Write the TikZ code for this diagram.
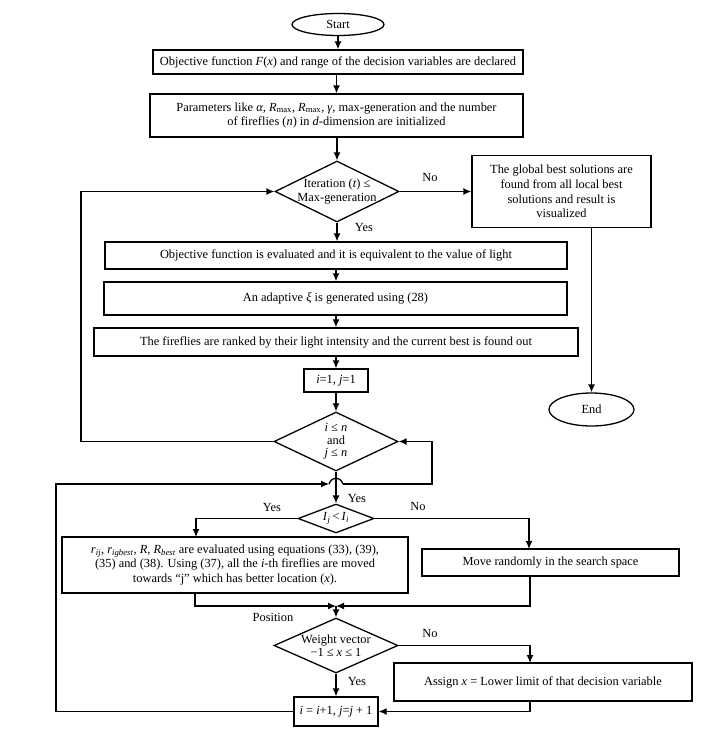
\documentclass[tikz,border=0pt]{standalone}
\usepackage{fontspec}
\setmainfont{Liberation Serif}
\usetikzlibrary{shapes.geometric,arrows.meta}
\begin{document}
\begin{tikzpicture}[x=1pt,y=-1pt,line width=1.3pt,
  font=\fontsize{12.4}{14.7}\selectfont,
  box/.style={draw, rectangle, inner sep=0pt, align=center},
  dia/.style={draw, diamond, inner sep=0pt},
  term/.style={draw, ellipse, inner sep=0pt},
  dtext/.style={inner sep=0pt, align=center},
  tight/.style={font=\fontsize{12.4}{12.5}\selectfont},
  arr/.style={-{Latex[length=8pt,width=7pt]}},
  lbl/.style={inner sep=0pt}
]
\useasboundingbox[fill=white] (0,0) rectangle (718,734);

% nodes
\node[term, minimum width=92pt, minimum height=22pt] (start) at (338,24.5) {Start};
\node[box, minimum width=370pt, minimum height=24pt] (b1) at (338,62)
  {Objective function \textit{F}(\textit{x}) and range of the decision variables are declared};
\node[box, minimum width=373pt, minimum height=43pt] (b2) at (336.5,115.5)
  {Parameters like \textit{α}, \textit{R}\textsubscript{max}, \textit{R}\textsubscript{max}, \textit{γ}, max-generation and the number\\of fireflies (\textit{n}) in \textit{d}-dimension are initialized};
\node[dia, minimum width=124pt, minimum height=61pt] (d1) at (337,191.5) {};
\node[dtext, font=\fontsize{12.4}{14}\selectfont] at (d1) {Iteration (\textit{t}) ≤\\Max-generation};
\node[box, minimum width=179pt, minimum height=72pt] (glob) at (561.5,191.5)
  {The global best solutions are\\found from all local best\\solutions and result is\\visualized};
\node[term, minimum width=85pt, minimum height=33pt] (end) at (591.5,409.5) {End};
\node[box, minimum width=462pt, minimum height=27pt] (b3) at (336,255.5)
  {Objective function is evaluated and it is equivalent to the value of light};
\node[box, minimum width=463pt, minimum height=33pt] (b4) at (335.5,298.5)
  {An adaptive \textit{ξ} is generated using (28)};
\node[box, minimum width=484pt, minimum height=28pt] (b5) at (336,342)
  {The fireflies are ranked by their light intensity and the current best is found out};
\node[box, minimum width=64pt, minimum height=23pt] (init) at (336,380.5)
  {\textit{i}=1, \textit{j}=1};
\node[dia, minimum width=124pt, minimum height=59pt] (d2) at (336,441.5) {};
\node[dtext, tight] at (d2) {\textit{i} ≤ \textit{n}\\and\\\textit{j} ≤ \textit{n}};
\node[dia, minimum width=76pt, minimum height=29pt] (d3) at (336,518.5) {};
\node[dtext] at (d3) {\textit{I}\textsubscript{\textit{j}}\,<\,\textit{I}\textsubscript{\textit{i}}};
\node[box, minimum width=346pt, minimum height=56pt] (big) at (235,565)
  {\textit{r}\textsubscript{\textit{ij}}, \textit{r}\textsubscript{\textit{igbest}}, \textit{R}, \textit{R}\textsubscript{\textit{best}} are evaluated using equations (33), (39),\\(35) and (38). Using (37), all the \textit{i}-th fireflies are moved\\towards “j” which has better location (\textit{x}).};
\node[box, minimum width=257pt, minimum height=27pt] (move) at (550.5,562.5)
  {Move randomly in the search space};
\node[dia, minimum width=124pt, minimum height=55pt] (d4) at (336,645.5) {};
\node[dtext, tight] at (d4) {Weight vector\\−1 ≤ \textit{x} ≤ 1};
\node[box, minimum width=298pt, minimum height=38pt] (assign) at (543,682)
  {Assign \textit{x} = Lower limit of that decision variable};
\node[box, minimum width=84pt, minimum height=29pt] (incr) at (336,711.5)
  {\textit{i} = \textit{i}+1, \textit{j}=\textit{j} + 1};

% labels
\node[lbl] at (430,177) {No};
\node[lbl] at (364,227) {Yes};
\node[lbl] at (357,498) {Yes};
\node[lbl] at (272,507) {Yes};
\node[lbl] at (418,506) {No};
\node[lbl] at (273,617) {Position};
\node[lbl] at (430,633) {No};
\node[lbl] at (357,681) {Yes};

% coordinates
\coordinate (ll) at (81,441.5);
\coordinate (lc) at (56,484);
\coordinate (hopA) at (329,484);
\coordinate (hopB) at (343,484);
\coordinate (rc) at (432,484);
\coordinate (bigin) at (196,537);
\coordinate (movein) at (529,549);
\coordinate (bigout) at (195,593);
\coordinate (moveout) at (530,576);
\coordinate (merge) at (336,606);
\coordinate (asgin) at (530,663);
\coordinate (asgout) at (530,701);

% connectors
\draw[arr] (start.south) -- (start.south |- b1.north);
\draw[arr] (b1.south -| b2.north) -- (b2.north);
\draw[arr] (b2.south -| d1.north) -- (d1.north);
\draw[arr] (d1.east) -- (glob.west);
\draw[arr] (d1.south) -- (d1.south |- b3.north);
\draw[arr] (end.north |- glob.south) -- (end.north);
\draw[arr] (b3.south -| init.north) -- (init.north |- b4.north);
\draw[arr] (b4.south -| init.north) -- (init.north |- b5.north);
\draw[arr] (b5.south -| init.north) -- (init.north);
\draw[arr] (init) -- (d2);
\draw[arr] (d2.west) -- (ll) |- (d1.west);
\draw[arr] (d2.south) -- (d3.north);
\draw[arr] (incr.west) -| (lc) -- (hopA);
\draw (hopA) .. controls (332,476) and (340,476) .. (hopB);
\draw[arr] (hopB) -- (rc) |- (d2.east);
\draw[arr] (d3.west) -| (bigin);
\draw[arr] (d3.east) -| (movein);
\draw[arr] (bigout) |- (merge);
\draw[arr] (moveout) |- (merge);
\draw[arr] (merge) -- (d4.north);
\draw[arr] (d4.east) -| (asgin);
\draw[arr] (d4.south) -- (incr.north);
\draw[arr] (asgout) |- (incr.east);
\end{tikzpicture}
\end{document}
